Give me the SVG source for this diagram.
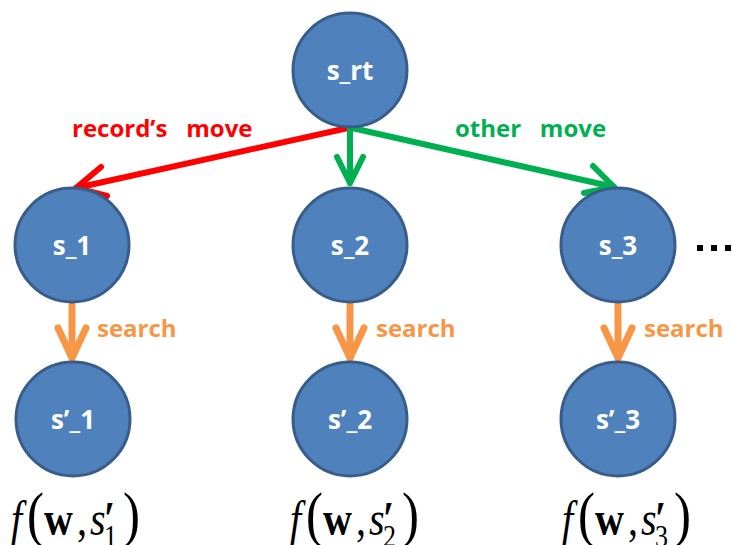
<svg xmlns="http://www.w3.org/2000/svg" width="732" height="545" viewBox="0 0 732 545">
<style>
.node circle{fill:#4f81bd;stroke:#385d8a;stroke-width:3}
.node text{fill:#fff;font-family:"Open Sans","Liberation Sans",sans-serif;font-weight:bold;font-size:26px;text-anchor:middle}
.lbl{font-family:"Open Sans","Liberation Sans",sans-serif;font-weight:bold;font-size:24px}
.ar{fill:none;stroke-linecap:round;stroke-linejoin:round}
.f{font-family:"Liberation Serif","Times New Roman",serif;font-size:40px;fill:#000}
.it{font-style:italic}
.b{font-weight:bold}
.p{font-size:51px}
.sub{font-size:26px}
.pr{font-size:40px;font-weight:bold}
</style>
<g id="connectors">
<g class="ar" stroke="#ff0000" stroke-width="6">
<line x1="348" y1="128" x2="76" y2="188"/>
<polyline points="101,167 76,188 107,196"/>
</g>
<g class="ar" stroke="#00b050" stroke-width="6">
<line x1="350" y1="128" x2="350" y2="183"/>
<polyline points="337,157 350,183 363,157"/>
<line x1="352" y1="128" x2="614" y2="187"/>
<polyline points="584,193 614,187 593,166"/>
</g>
<g class="ar" stroke="#f79646" stroke-width="7">
<line x1="72" y1="305" x2="72" y2="358"/>
<polyline points="58,328 72,358 86,328"/>
<line x1="350" y1="305" x2="350" y2="358"/>
<polyline points="336,328 350,358 364,328"/>
<line x1="618" y1="305" x2="618" y2="358"/>
<polyline points="604,328 618,358 632,328"/>
</g>
</g>
<text class="lbl" x="72" y="137" fill="#ff0000" xml:space="preserve">record’s   move</text>
<text class="lbl" x="455" y="137" fill="#00b050" xml:space="preserve">other   move</text>
<text class="lbl" x="97" y="337" fill="#f79646">search</text>
<text class="lbl" x="376" y="337" fill="#f79646">search</text>
<text class="lbl" x="644" y="337" fill="#f79646">search</text>
<g id="s_rt" class="node"><circle cx="350" cy="70" r="57"/><text x="350" y="80">s_rt</text></g>
<g id="s_1" class="node"><circle cx="72" cy="245" r="57"/><text x="72" y="255">s_1</text></g>
<g id="s_2" class="node"><circle cx="350" cy="245" r="57"/><text x="350" y="255">s_2</text></g>
<g id="s_3" class="node"><circle cx="618" cy="245" r="57"/><text x="618" y="255">s_3</text></g>
<g id="sp_1" class="node"><circle cx="73" cy="419" r="57"/><text x="73" y="429">s’_1</text></g>
<g id="sp_2" class="node"><circle cx="350" cy="419" r="57"/><text x="350" y="429">s’_2</text></g>
<g id="sp_3" class="node"><circle cx="618" cy="419" r="57"/><text x="618" y="429">s’_3</text></g>
<g id="ellipsis" fill="#000">
<rect x="697" y="245" width="6" height="6"/><rect x="711" y="245" width="6" height="6"/><rect x="725" y="245" width="6" height="6"/>
</g>
<g id="formula1" class="f" transform="translate(8 535) scale(1 1.2)">
<text class="it" x="3" y="0">f</text>
<text class="p" x="19" y="0">(</text>
<text class="b" x="36" y="0">w</text>
<text x="69" y="0">,</text>
<text class="it" x="82" y="0">s</text>
<text class="pr" x="96" y="0">′</text>
<text class="sub" x="96" y="10">1</text>
<text class="p" x="115" y="0">)</text>
</g>
<g id="formula2" class="f" transform="translate(287 535) scale(1 1.2)">
<text class="it" x="3" y="0">f</text>
<text class="p" x="19" y="0">(</text>
<text class="b" x="36" y="0">w</text>
<text x="69" y="0">,</text>
<text class="it" x="82" y="0">s</text>
<text class="pr" x="96" y="0">′</text>
<text class="sub" x="96" y="10">2</text>
<text class="p" x="115" y="0">)</text>
</g>
<g id="formula3" class="f" transform="translate(559 535) scale(1 1.2)">
<text class="it" x="3" y="0">f</text>
<text class="p" x="19" y="0">(</text>
<text class="b" x="36" y="0">w</text>
<text x="69" y="0">,</text>
<text class="it" x="82" y="0">s</text>
<text class="pr" x="96" y="0">′</text>
<text class="sub" x="96" y="10">3</text>
<text class="p" x="115" y="0">)</text>
</g>
</svg>
